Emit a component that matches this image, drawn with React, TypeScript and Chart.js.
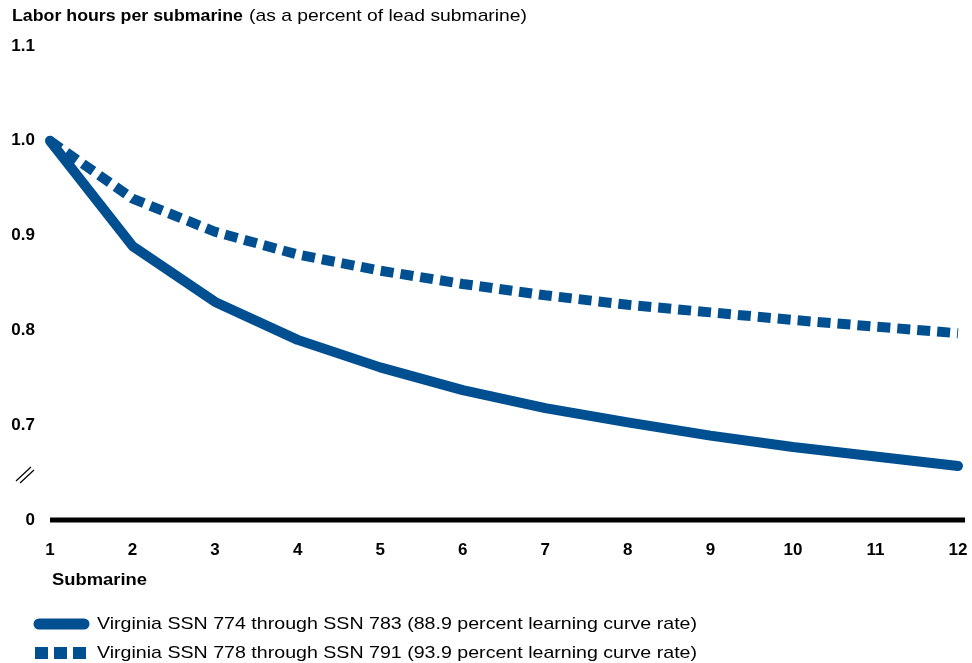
import React, { useEffect, useRef } from "react";
import { Chart, registerables } from "chart.js";

Chart.register(...registerables);

const submarines = [1, 2, 3, 4, 5, 6, 7, 8, 9, 10, 11, 12];
const solidSeries = [1.0, 0.889, 0.83, 0.79, 0.761, 0.737, 0.718, 0.703, 0.689, 0.677, 0.667, 0.657];
const dashedSeries = [1.0, 0.939, 0.904, 0.88, 0.863, 0.849, 0.837, 0.827, 0.819, 0.811, 0.804, 0.797];
const yTickValues = [0.6, 0.7, 0.8, 0.9, 1.0, 1.1];
const yTickLabels = ["0", "0.7", "0.8", "0.9", "1.0", "1.1"];
const titleBold = "Labor hours per submarine";
const titleNormal = "(as a percent of lead submarine)";
const xAxisTitle = "Submarine";
const legendLabels = [
  "Virginia SSN 774 through SSN 783 (88.9 percent learning curve rate)",
  "Virginia SSN 778 through SSN 791 (93.9 percent learning curve rate)",
];

const BLUE = "#004f91";
const FONT = "'Liberation Sans', Arial, sans-serif";

function fitText(ctx: any, text: string, x: number, y: number, width: number) {
  const tw = ctx.measureText(text).width;
  ctx.save();
  ctx.translate(x, y);
  ctx.scale(width / tw, 1);
  ctx.fillText(text, 0, 0);
  ctx.restore();
}

const decorPlugin = {
  id: "decor",
  afterDraw(chart: any) {
    const ctx = chart.ctx;
    const xs = chart.scales.x;
    const ys = chart.scales.y;
    ctx.save();
    // title
    ctx.fillStyle = "#000";
    ctx.textBaseline = "middle";
    ctx.textAlign = "left";
    ctx.font = `bold 17px ${FONT}`;
    fitText(ctx, titleBold, 12, 16, 231);
    ctx.font = `17px ${FONT}`;
    fitText(ctx, titleNormal, 249, 16, 278);

    // baseline axis
    const y0 = ys.getPixelForValue(0.6);
    const xl = xs.getPixelForValue(1);
    ctx.fillStyle = "#000";
    ctx.fillRect(xl, y0 - 2.5, xs.getPixelForValue(12) - xl + 7, 5);

    // break marks
    ctx.strokeStyle = "#000";
    ctx.lineWidth = 1.2;
    ctx.beginPath();
    ctx.moveTo(16, 481);
    ctx.lineTo(31, 467);
    ctx.moveTo(20, 483);
    ctx.lineTo(34, 470);
    ctx.stroke();

    // x axis title
    ctx.font = `bold 17px ${FONT}`;
    ctx.fillStyle = "#000";
    fitText(ctx, xAxisTitle, 52, 580, 95);

    // legend
    const ly = [624, 653];
    ctx.strokeStyle = BLUE;
    ctx.lineWidth = 11;
    ctx.lineCap = "round";
    ctx.beginPath();
    ctx.moveTo(39, ly[0]);
    ctx.lineTo(84, ly[0]);
    ctx.stroke();
    ctx.fillStyle = BLUE;
    for (const sx of [35, 54, 73]) {
      ctx.fillRect(sx, ly[1] - 6, 13, 12);
    }
    ctx.fillStyle = "#000";
    ctx.font = `17px ${FONT}`;
    for (let i = 0; i < legendLabels.length; i++) {
      fitText(ctx, legendLabels[i], 97, ly[i], 600);
    }
    ctx.restore();
  },
};

export default function App() {
  const ref = useRef<HTMLCanvasElement>(null);
  useEffect(() => {
    if (!ref.current) return;
    const chart = new Chart(ref.current, {
      type: "line",
      data: {
        labels: submarines,
        datasets: [
          {
            label: legendLabels[0],
            data: submarines.map((s, i) => ({ x: s, y: solidSeries[i] })),
            borderColor: BLUE,
            borderWidth: 10,
            borderCapStyle: "round",
            borderJoinStyle: "round",
            pointRadius: 0,
            tension: 0,
            clip: false,
          },
          {
            label: legendLabels[1],
            data: submarines.map((s, i) => ({ x: s, y: dashedSeries[i] })),
            borderColor: BLUE,
            borderWidth: 10,
            borderDash: [13, 7],
            borderCapStyle: "butt",
            pointRadius: 0,
            tension: 0,
            clip: false,
          },
        ],
      },
      options: {
        responsive: false,
        animation: false,
        layout: { padding: { top: 46, right: 14, left: 0, bottom: 0 } },
        plugins: { legend: { display: false }, tooltip: { enabled: false } },
        scales: {
          x: {
            type: "linear",
            min: 1,
            max: 12,
            grid: { display: false, drawTicks: false },
            border: { display: false },
            ticks: {
              stepSize: 1,
              padding: 20,
              color: "#000",
              font: { family: FONT, size: 17, weight: "bold" },
              maxRotation: 0,
            },
            afterFit: (s: any) => {
              s.height = 143;
              s.paddingLeft = 0;
              s.paddingRight = 0;
            },
          },
          y: {
            type: "linear",
            min: 0.6,
            max: 1.1,
            grid: { display: false, drawTicks: false },
            border: { display: false },
            afterBuildTicks: (s: any) => {
              s.ticks = yTickValues.map((v) => ({ value: v }));
            },
            ticks: {
              padding: 15,
              color: "#000",
              font: { family: FONT, size: 17, weight: "bold" },
              callback: (v: any) => {
                const idx = yTickValues.findIndex((t) => Math.abs(t - Number(v)) < 1e-6);
                return idx >= 0 ? yTickLabels[idx] : "";
              },
            },
            afterFit: (s: any) => {
              s.width = 50;
              s.paddingTop = 0;
              s.paddingBottom = 0;
            },
          },
        },
      },
      plugins: [decorPlugin],
    } as any);
    return () => chart.destroy();
  }, []);
  return (
    <div style={{ position: "fixed", left: 0, top: 0, width: 972, height: 663, background: "#fff" }}>
      <canvas ref={ref} width={972} height={663} style={{ display: "block" }} />
    </div>
  );
}
